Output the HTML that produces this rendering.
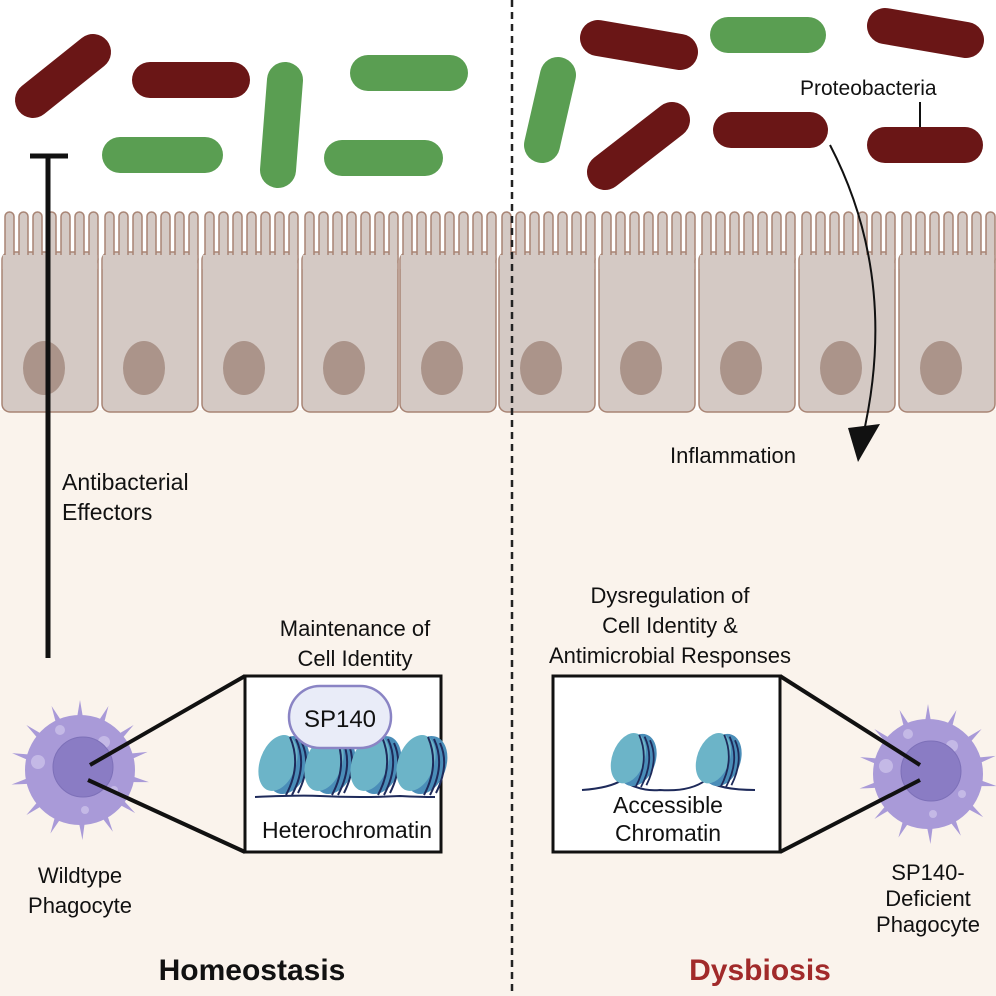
<!DOCTYPE html>
<html><head><style>
html,body{margin:0;padding:0;}
body{width:996px;height:996px;overflow:hidden;background:#fff;}
svg{display:block;font-family:"Liberation Sans",sans-serif;}
</style></head><body>
<svg width="996" height="996" viewBox="0 0 996 996">
<defs>
<g id="spk"><path d="M-12,0 Q-5,-40 0,-70 Q5,-40 12,0 Z" fill="#a99ad8"/></g>
<g id="cell">
  <use href="#spk" transform="rotate(0)"/><use href="#spk" transform="rotate(24)"/><use href="#spk" transform="rotate(50)"/><use href="#spk" transform="rotate(75)"/><use href="#spk" transform="rotate(100)"/><use href="#spk" transform="rotate(128)"/><use href="#spk" transform="rotate(152)"/><use href="#spk" transform="rotate(178)"/><use href="#spk" transform="rotate(205)"/><use href="#spk" transform="rotate(230)"/><use href="#spk" transform="rotate(258)"/><use href="#spk" transform="rotate(284)"/><use href="#spk" transform="rotate(310)"/><use href="#spk" transform="rotate(336)"/>
  <circle r="55" fill="#a99ad8"/>
  <circle cx="-20" cy="-40" r="5" fill="#c4b9e6"/><circle cx="24" cy="-28" r="6" fill="#c4b9e6"/><circle cx="-42" cy="-8" r="7" fill="#c4b9e6"/><circle cx="34" cy="20" r="4" fill="#c4b9e6"/><circle cx="5" cy="40" r="4" fill="#c4b9e6"/>
  <circle cx="3" cy="-3" r="30" fill="#8a7cc4" stroke="#7d70b8" stroke-width="1"/>
</g>
<g id="nuc">
  <ellipse cx="6" cy="0" rx="20" ry="30" fill="#4a8db8" transform="rotate(20 6 0)"/>
  <ellipse cx="-4" cy="-2" rx="18" ry="29" fill="#6cb4c8" transform="rotate(20 -4 -2)"/>
  <path d="M8,-28 Q20,0 4,30 M14,-26 Q26,0 10,30 M20,-22 Q30,0 16,28" stroke="#1e2a5a" stroke-width="2" fill="none"/>
</g>
</defs>
<rect x="0" y="0" width="996" height="410" fill="#fff"/>
<rect x="0" y="410" width="996" height="586" fill="#faf3ec"/>

<!-- epithelium -->
<g stroke="#a88474" stroke-width="1.5" fill="#d4c9c4">
<g id="ep">
  <rect x="2" y="252" width="96" height="160" rx="8"/>
  <rect x="5" y="212" width="9" height="52" rx="4.5"/><rect x="19" y="212" width="9" height="52" rx="4.5"/><rect x="33" y="212" width="9" height="52" rx="4.5"/><rect x="47" y="212" width="9" height="52" rx="4.5"/><rect x="61" y="212" width="9" height="52" rx="4.5"/><rect x="75" y="212" width="9" height="52" rx="4.5"/><rect x="89" y="212" width="9" height="52" rx="4.5"/>
  <rect x="2.8" y="255" width="94.4" height="14" stroke="none"/>
  <ellipse cx="44" cy="368" rx="21" ry="27" fill="#ab948a" stroke="none"/>
</g>
<use href="#ep" x="100"/><use href="#ep" x="200"/><use href="#ep" x="300"/><use href="#ep" x="398"/><use href="#ep" x="497"/><use href="#ep" x="597"/><use href="#ep" x="697"/><use href="#ep" x="797"/><use href="#ep" x="897"/>
</g>

<!-- bacteria -->
<g stroke-linecap="round" fill="none">
<g stroke="#6a1616" stroke-width="36">
 <line x1="33" y1="100" x2="93" y2="52"/>
 <line x1="150" y1="80" x2="232" y2="80"/>
 <line x1="598" y1="38" x2="680" y2="52"/>
 <line x1="885" y1="26" x2="966" y2="40"/>
 <line x1="605" y1="172" x2="672" y2="120"/>
 <line x1="731" y1="130" x2="810" y2="130"/>
 <line x1="885" y1="145" x2="965" y2="145"/>
</g>
<g stroke="#5a9e52" stroke-width="36">
 <line x1="120" y1="155" x2="205" y2="155"/>
 <line x1="285" y1="80" x2="278" y2="170"/>
 <line x1="368" y1="73" x2="450" y2="73"/>
 <line x1="342" y1="158" x2="425" y2="158"/>
 <line x1="558" y1="75" x2="542" y2="145"/>
 <line x1="728" y1="35" x2="808" y2="35"/>
</g>
</g>
<text x="800" y="95" font-size="21" fill="#111">Proteobacteria</text>
<line x1="920" y1="102" x2="920" y2="127" stroke="#111" stroke-width="2"/>

<!-- divider -->
<line x1="512" y1="0" x2="512" y2="996" stroke="#222" stroke-width="2.5" stroke-dasharray="7,5"/>

<!-- T bar -->
<line x1="48" y1="155" x2="48" y2="658" stroke="#111" stroke-width="5"/>
<line x1="30" y1="156" x2="68" y2="156" stroke="#111" stroke-width="5"/>
<text x="62" y="490" font-size="23" fill="#111">Antibacterial</text>
<text x="62" y="520" font-size="23" fill="#111">Effectors</text>

<!-- inflammation arrow -->
<path d="M830,145 Q900,280 862,440" stroke="#111" stroke-width="2" fill="none"/>
<path d="M848,428 L880,424 L858,462 Z" fill="#111"/>
<text x="670" y="463" font-size="22" fill="#111">Inflammation</text>

<!-- left phagocyte -->
<use href="#cell" transform="translate(80,770)"/>
<line x1="90" y1="765" x2="245" y2="676" stroke="#111" stroke-width="4"/>
<line x1="88" y1="780" x2="245" y2="852" stroke="#111" stroke-width="4"/>
<rect x="245" y="676" width="196" height="176" fill="#fff" stroke="#111" stroke-width="3"/>
<text x="355" y="636" font-size="22" text-anchor="middle" fill="#111">Maintenance of</text>
<text x="355" y="666" font-size="22" text-anchor="middle" fill="#111">Cell Identity</text>
<path d="M255,797 Q300,795 320,796 Q360,798 400,796 Q420,797 435,797" stroke="#1e2a5a" stroke-width="2" fill="none"/>
<use href="#nuc" transform="translate(282,765)"/>
<use href="#nuc" transform="translate(328,765)"/>
<use href="#nuc" transform="translate(374,765)"/>
<use href="#nuc" transform="translate(420,765)"/>
<rect x="289" y="686" width="102" height="62" rx="31" fill="#e9ecf8" stroke="#8a84c4" stroke-width="2.5"/>
<text x="340" y="727" font-size="24" text-anchor="middle" fill="#111">SP140</text>
<text x="347" y="838" font-size="23" text-anchor="middle" fill="#111">Heterochromatin</text>
<text x="80" y="883" font-size="22" text-anchor="middle" fill="#111">Wildtype</text>
<text x="80" y="913" font-size="22" text-anchor="middle" fill="#111">Phagocyte</text>

<!-- right -->
<use href="#cell" transform="translate(928,774)"/>
<line x1="920" y1="765" x2="780" y2="676" stroke="#111" stroke-width="4"/>
<line x1="920" y1="780" x2="780" y2="852" stroke="#111" stroke-width="4"/>
<rect x="553" y="676" width="227" height="176" fill="#fff" stroke="#111" stroke-width="3"/>
<text x="670" y="603" font-size="22" text-anchor="middle" fill="#111">Dysregulation of</text>
<text x="670" y="633" font-size="22" text-anchor="middle" fill="#111">Cell Identity &amp;</text>
<text x="670" y="663" font-size="22" text-anchor="middle" fill="#111">Antimicrobial Responses</text>
<path d="M582,790 Q610,788 622,780 Q640,792 660,790 Q690,792 706,780 Q720,790 755,790" stroke="#1e2a5a" stroke-width="2" fill="none"/>
<use href="#nuc" transform="translate(632,760) scale(0.9)"/>
<use href="#nuc" transform="translate(717,760) scale(0.9)"/>
<text x="668" y="813" font-size="23" text-anchor="middle" fill="#111">Accessible</text>
<text x="668" y="841" font-size="23" text-anchor="middle" fill="#111">Chromatin</text>
<text x="928" y="880" font-size="22" text-anchor="middle" fill="#111">SP140-</text>
<text x="928" y="906" font-size="22" text-anchor="middle" fill="#111">Deficient</text>
<text x="928" y="932" font-size="22" text-anchor="middle" fill="#111">Phagocyte</text>

<text x="252" y="980" font-size="30" font-weight="bold" text-anchor="middle" fill="#111">Homeostasis</text>
<text x="760" y="980" font-size="30" font-weight="bold" text-anchor="middle" fill="#a12a2a">Dysbiosis</text>
</svg>
</body></html>
